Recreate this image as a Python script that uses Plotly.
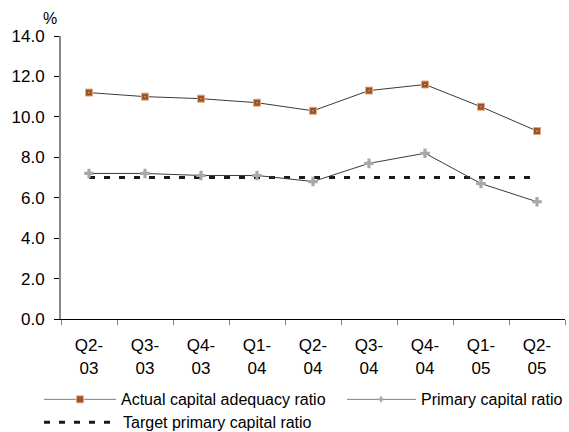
import plotly.graph_objects as go

# Quarterly capital ratios, in percent
quarters = ["Q2-<br>03", "Q3-<br>03", "Q4-<br>03", "Q1-<br>04", "Q2-<br>04",
            "Q3-<br>04", "Q4-<br>04", "Q1-<br>05", "Q2-<br>05"]
actual_car = [11.2, 11.0, 10.9, 10.7, 10.3, 11.3, 11.6, 10.5, 9.3]
primary_car = [7.2, 7.2, 7.1, 7.1, 6.8, 7.7, 8.2, 6.7, 5.8]
target_primary = [7.0] * len(quarters)

y_ticks = [0, 2, 4, 6, 8, 10, 12, 14]
y_tick_text = [f"{v:.1f}" for v in y_ticks]

legend_names = ["Actual capital adequacy ratio", "Primary capital ratio",
                "Target primary capital ratio"]

FONT = "Liberation Sans, Arial, sans-serif"
W, H = 569, 432
M_L, M_R, M_T, M_B = 61, 4, 36, 112.5
PLOT_W = W - M_L - M_R
PLOT_H = H - M_T - M_B

BROWN = "#A0521F"
BROWN_EDGE = "#DDA987"
CROSS = "#A8A8A8"
LINE = "#3A3A3A"


def px(x):
    return (x - M_L) / PLOT_W


def py(y):
    return (H - M_B - y) / PLOT_H


fig = go.Figure()

fig.add_trace(go.Scatter(
    x=quarters, y=target_primary, mode="lines", name=legend_names[2],
    line=dict(color="#1A1A1A", width=3, dash="6px,9px"), showlegend=False,
))
fig.add_trace(go.Scatter(
    x=quarters, y=primary_car, mode="lines+markers", name=legend_names[1],
    line=dict(color=LINE, width=1),
    marker=dict(symbol="cross", size=8, color=CROSS, line=dict(width=0)),
    showlegend=False,
))
fig.add_trace(go.Scatter(
    x=quarters, y=actual_car, mode="lines+markers", name=legend_names[0],
    line=dict(color=LINE, width=1),
    marker=dict(symbol="square-dot", size=7, color=BROWN,
                line=dict(color=BROWN_EDGE, width=1)),
    showlegend=False,
))

# Legend drawn beneath the axes
shapes = []
annotations = []
row1, row2 = 400, 423
LEG_FONT = dict(family=FONT, size=16, color="#000")

# Actual capital adequacy ratio
shapes.append(dict(type="line", xref="paper", yref="paper",
                   x0=px(44), x1=px(116), y0=py(row1), y1=py(row1),
                   line=dict(color="#808080", width=1)))
shapes.append(dict(type="rect", xref="paper", yref="paper",
                   x0=px(76.5), x1=px(83.5), y0=py(row1 - 3.5), y1=py(row1 + 3.5),
                   fillcolor=BROWN, line=dict(color=BROWN_EDGE, width=1)))
annotations.append(dict(text=legend_names[0], xref="paper", yref="paper",
                        x=px(119), y=py(row1), xanchor="left", yanchor="middle",
                        showarrow=False, font=LEG_FONT))

# Primary capital ratio
shapes.append(dict(type="line", xref="paper", yref="paper",
                   x0=px(347), x1=px(416), y0=py(row1), y1=py(row1),
                   line=dict(color="#808080", width=1)))
shapes.append(dict(type="line", xref="paper", yref="paper",
                   x0=px(378), x1=px(384), y0=py(row1), y1=py(row1),
                   line=dict(color=CROSS, width=2)))
shapes.append(dict(type="line", xref="paper", yref="paper",
                   x0=px(381), x1=px(381), y0=py(row1 - 3), y1=py(row1 + 3),
                   line=dict(color=CROSS, width=2)))
annotations.append(dict(text=legend_names[1], xref="paper", yref="paper",
                        x=px(419), y=py(row1), xanchor="left", yanchor="middle",
                        showarrow=False, font=LEG_FONT))

# Target primary capital ratio
shapes.append(dict(type="line", xref="paper", yref="paper",
                   x0=px(44), x1=px(113), y0=py(row2), y1=py(row2),
                   line=dict(color="#1A1A1A", width=3, dash="6px,9px")))
annotations.append(dict(text=legend_names[2], xref="paper", yref="paper",
                        x=px(121), y=py(row2), xanchor="left", yanchor="middle",
                        showarrow=False, font=LEG_FONT))

# Unit label above the value axis
annotations.append(dict(text="%", xref="paper", yref="paper",
                        x=px(50), y=py(18), xanchor="center", yanchor="middle",
                        showarrow=False, font=dict(family=FONT, size=16, color="#000")))

fig.update_layout(
    width=W, height=H,
    margin=dict(l=M_L, r=M_R, t=M_T, b=M_B, pad=0),
    paper_bgcolor="white", plot_bgcolor="white",
    font=dict(family=FONT, size=17, color="#000"),
    showlegend=False,
    shapes=shapes,
    annotations=annotations,
    xaxis=dict(
        type="category", range=[-0.5, len(quarters) - 0.5],
        showgrid=False, zeroline=False,
        showline=True, linecolor="#000", linewidth=1,
        ticks="outside", tickson="boundaries", ticklen=5,
        tickcolor="#808080", tickwidth=1,
        tickfont=dict(family=FONT, size=17, color="#000"),
        ticklabelstandoff=11,
    ),
    yaxis=dict(
        range=[0, 14], tickvals=y_ticks, ticktext=y_tick_text,
        showgrid=False, zeroline=False,
        showline=True, linecolor="#888888", linewidth=2,
        ticks="outside", ticklen=5, tickcolor="#000", tickwidth=1,
        tickfont=dict(family=FONT, size=17, color="#000"),
        ticklabelstandoff=6,
    ),
)

fig.write_html("out.html")
